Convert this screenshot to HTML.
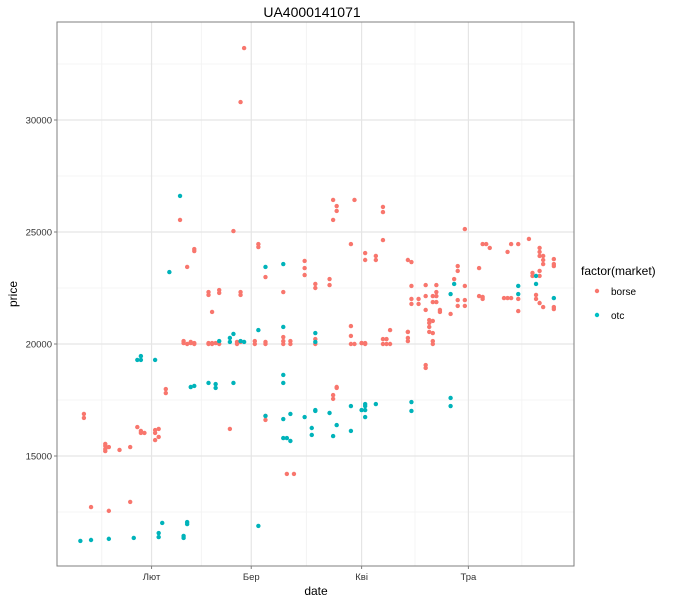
<!DOCTYPE html>
<html><head><meta charset="utf-8"><style>
body{margin:0;background:#fff;font-family:"Liberation Sans",sans-serif;}
svg text{font-family:"Liberation Sans","DejaVu Sans",sans-serif;}
</style></head><body>
<svg id="chart" width="680" height="602" xmlns="http://www.w3.org/2000/svg">
<rect width="680" height="602" fill="#fff"/>
<text x="312" y="17" text-anchor="middle" font-size="14" fill="#000">UA4000141071</text>
<g id="grid"></g>
<g id="axes"></g>
<g id="points"></g>
<rect x="57" y="22" width="517" height="544" fill="none" stroke="#7f7f7f" stroke-width="1"/>
<text x="316" y="595" text-anchor="middle" font-size="12" fill="#000">date</text>
<text x="0" y="0" transform="translate(17,294) rotate(-90)" text-anchor="middle" font-size="12" fill="#000">price</text>
<g>
<text x="581" y="275" font-size="12" fill="#000">factor(market)</text>
<circle cx="597" cy="291" r="2.2" fill="#F8766D"/>
<text x="611" y="295" font-size="10" fill="#000">borse</text>
<circle cx="597" cy="315" r="2.2" fill="#00BFC4"/>
<text x="611" y="319" font-size="10" fill="#000">otc</text>
</g>
</svg>
<script>
const yTicks = [15000, 20000, 25000, 30000];
const yMinor = [12500, 17500, 22500, 27500, 32500];
const xTickDays = [32, 60, 91, 121];
const xTickLabels = ["Лют", "Бер", "Кві", "Тра"];
const xMinorDays = [18, 46, 75.5, 106, 136];
const borseDays = [13,13,19,19,19,20,19,23,26,28,29,29,30,33,33,34,33,34,36,36,15,20,26,54,40,55,44,44,42,48,48,51,51,57,57,49,62,62,
41,41,42,43,43,44,44,48,49,48,49,50,51,56,56,57,61,61,58,57,
83,84,84,83,89,88,92,92,95,95,97,97,97,104,105,105,105,107,105,107,
64,69,75,75,75,78,78,82,82,
64,64,69,69,69,71,71,78,78,88,88,88,89,91,91,92,92,97,98,97,98,99,99,104,104,104,
64,64,83,83,84,84,70,72,109,109,111,111,
120,109,112,109,111,112,112,111,112,109,113,113,110,111,110,110,110,111,104,116,117,118,118,120,118,120,118,120,124,125,126,127,124,125,125,131,132,133,132,133,135,135,135,138,141,141,141,142,142,142,139,139,141,141,140,140,141,142,145,145,145,145,145];
const borsePrices = [16880,16700,15450,15310,15540,15400,15220,15270,15400,16290,16120,16030,16030,16160,16030,16210,15710,15850,17990,17810,12720,12550,12950,16210,25540,25040,24240,24150,23440,22320,22190,22410,22280,22320,22190,21430,24460,24330,
20130,20040,20000,20040,20090,20040,20000,20000,20000,20040,20040,20040,20000,20000,20090,20090,20130,20000,33210,30800,
26430,26160,25940,25540,26430,24460,24060,23750,23930,23750,26120,25890,24640,23750,23660,22590,22010,22010,21790,21790,
22990,22320,23710,23390,23080,22680,22500,22900,22630,
20090,20000,20310,20130,20000,20130,20000,20220,20000,20800,20360,20000,20000,20040,20040,20040,20000,20220,20220,20000,20000,20000,20620,20540,20270,20130,
16610,16790,17720,17550,18080,18040,14200,14200,19060,18930,20130,20000,
25130,22630,22630,22140,22140,22140,22320,21870,21870,21520,21520,21430,21070,21030,20940,20760,20540,20490,20540,21340,22900,23480,23260,22590,21960,21960,21700,21700,23390,24460,24460,24290,22140,22100,22010,22050,22050,22050,24110,24460,24460,22010,21470,24690,24290,24110,23930,23930,23750,23570,23170,23040,23260,23040,22190,22010,21830,21650,23790,23570,23480,21650,21560];
const otcDays = [12,15,20,27,34,34,35,41,41,42,42,62,43,44,48,50,50,55,40,37,28,29,29,33,51,54,54,55,57,58,64,69,62,69,78,78,69,69,64,69,71,69,70,71,75,77,77,78,78,82,83,84,88,88,91,92,92,92,92,95,105,105,116,116,117,116,135,135,140,140,145];
const otcPrices = [11210,11250,11300,11340,11560,11380,12010,11430,11340,12050,11960,11880,18080,18130,18260,18210,18040,18260,26610,23210,19290,19460,19290,19290,20130,20270,20090,20450,20130,20090,23440,23570,20620,20760,20490,20090,18620,18260,16790,16650,16880,15800,15800,15670,16740,16250,15940,17010,17050,16920,15890,16380,17230,16120,17050,17320,17230,17050,16740,17320,17410,17010,17590,17230,22680,22230,22590,22230,23040,22680,22050];

const NS = "http://www.w3.org/2000/svg";
const L = 57, R = 574, T = 22, B = 566;
function xScale(d){ return 41.2 + (d - 1) * 3.56; }
function yScale(p){ return 344 - (p - 20000) * 112 / 5000; }
function mk(tag, attrs, parent){
  const e = document.createElementNS(NS, tag);
  for (const k in attrs) e.setAttribute(k, attrs[k]);
  parent.appendChild(e);
  return e;
}
const grid = document.getElementById("grid");
const axes = document.getElementById("axes");
const pts = document.getElementById("points");
yMinor.forEach(v => {
  const y = yScale(v); if (y < T || y > B) return;
  const l = mk("line", {x1:L, x2:R, y1:y, y2:y, stroke:"#f4f4f4", "stroke-width":1}, grid);
  
  
});
xMinorDays.forEach(d => {
  const x = xScale(d); if (x < L || x > R) return;
  const l = mk("line", {x1:x, x2:x, y1:T, y2:B, stroke:"#f4f4f4", "stroke-width":1}, grid);
  
  
});
yTicks.forEach(v => {
  const y = yScale(v);
  const l = mk("line", {x1:L, x2:R, y1:y, y2:y, stroke:"#e5e5e5", "stroke-width":1.2}, grid);
  
  
  const t = mk("line", {x1:L-3, x2:L, y1:y, y2:y, stroke:"#7f7f7f"}, axes);
  
  
  const tx = mk("text", {x:L-5, y:y+3.5, "text-anchor":"end", "font-size":"9.5", fill:"#333"}, axes);
  
  
  tx.textContent = v;
});
xTickDays.forEach((d, i) => {
  const x = xScale(d);
  const l = mk("line", {x1:x, x2:x, y1:T, y2:B, stroke:"#e5e5e5", "stroke-width":1.2}, grid);
  
  
  const t = mk("line", {x1:x, x2:x, y1:B, y2:B+3, stroke:"#7f7f7f"}, axes);
  
  
  const tx = mk("text", {x:x, y:B+14, "text-anchor":"middle", "font-size":"9.5", fill:"#333"}, axes);
  
  
  tx.textContent = xTickLabels[i];
});
borseDays.forEach((d, i) => {
  const c = mk("circle", {cx:xScale(d), cy:yScale(borsePrices[i]), r:2.2, fill:"#F8766D"}, pts);
  
  
});
otcDays.forEach((d, i) => {
  const c = mk("circle", {cx:xScale(d), cy:yScale(otcPrices[i]), r:2.2, fill:"#00B3BA"}, pts);
  
  
});
</script>
</body></html>
